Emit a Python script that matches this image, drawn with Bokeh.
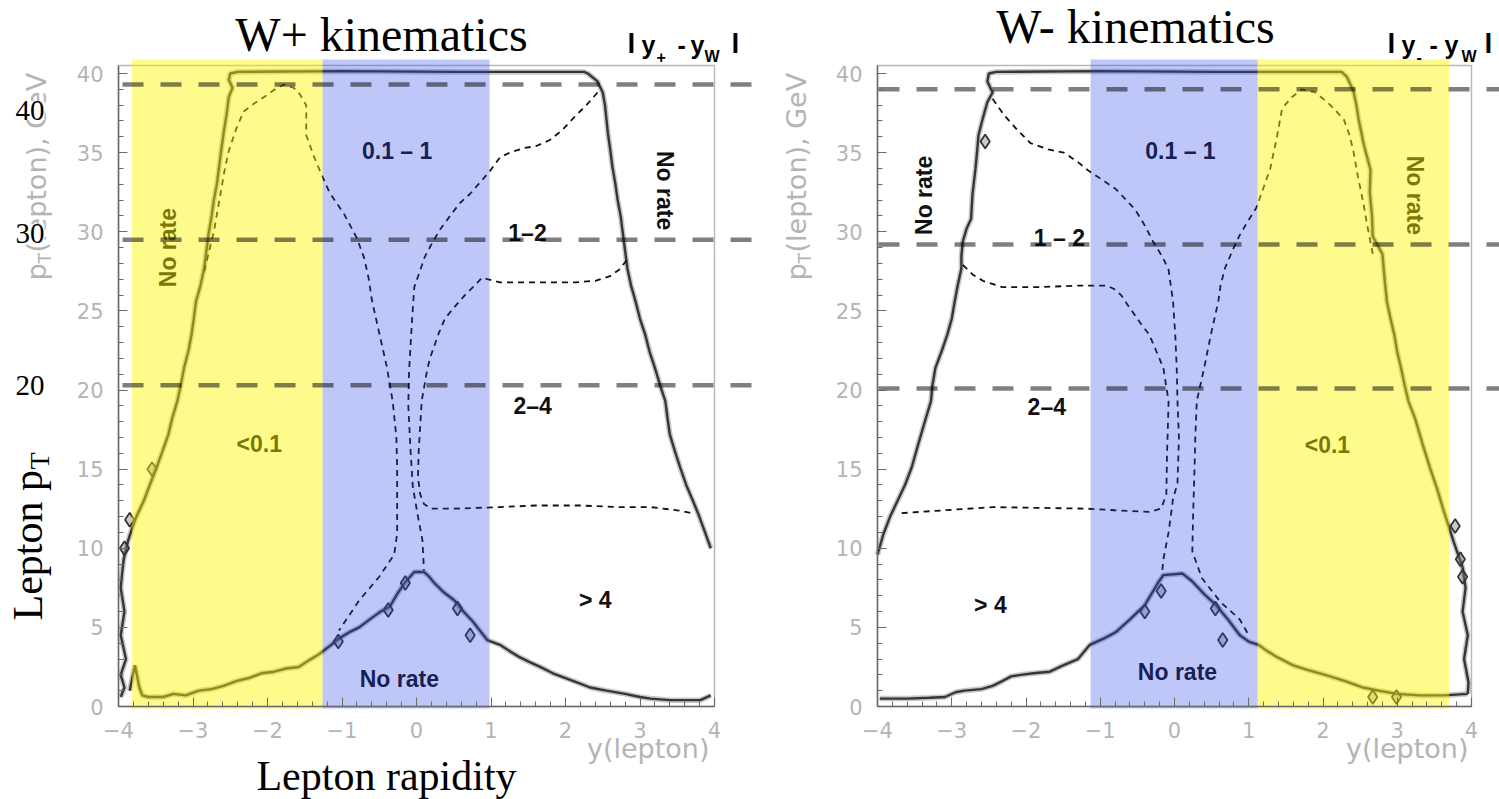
import math
from bokeh.plotting import figure
from bokeh.layouts import row
from bokeh.models import Label, Range1d, SingleIntervalTicker
from bokeh.core.properties import value
from bokeh.embed import file_html
from bokeh.resources import INLINE

# ------------------------------------------------------------------ data
X_TICKS = [-4, -3, -2, -1, 0, 1, 2, 3, 4]
Y_TICKS = [0, 5, 10, 15, 20, 25, 30, 35, 40]
BOX_TOP = 40.5
CUT_LABELS = ["40", "30", "20"]
TITLES = ["W+ kinematics", "W- kinematics"]

# ---- W+ panel
WP_EDGE = [(-3.95, 8.5), (-3.93, 9.3), (-3.87, 10.5), (-3.80, 11.5), (-3.76, 12.0), (-3.70, 12.6),
           (-3.66, 13.0), (-3.58, 14.0), (-3.49, 15.1), (-3.42, 16.0), (-3.33, 17.2), (-3.28, 18.2),
           (-3.21, 19.3), (-3.16, 20.4), (-3.12, 21.4), (-3.06, 22.5), (-3.02, 23.5), (-2.99, 24.5),
           (-2.96, 25.6), (-2.90, 26.6), (-2.85, 27.7), (-2.82, 28.8), (-2.79, 29.9), (-2.75, 31.0),
           (-2.72, 32.0), (-2.68, 33.0), (-2.65, 34.1), (-2.62, 35.2), (-2.59, 36.2), (-2.55, 37.4),
           (-2.52, 38.5), (-2.47, 39.1), (-2.52, 39.6), (-2.50, 40.0), (-2.40, 40.1), (-1.00, 40.15),
           (0.50, 40.1), (2.25, 40.1), (2.30, 40.0), (2.43, 39.5), (2.50, 38.8), (2.53, 38.0),
           (2.57, 36.2), (2.60, 35.2), (2.63, 34.1), (2.67, 33.0), (2.70, 32.0), (2.74, 31.0),
           (2.77, 29.9), (2.80, 28.8), (2.83, 27.7), (2.88, 26.6), (2.94, 25.6), (3.00, 24.5),
           (3.07, 23.5), (3.13, 22.4), (3.20, 21.4), (3.27, 20.3), (3.34, 19.3), (3.37, 18.2),
           (3.40, 17.2), (3.47, 16.1), (3.54, 15.1), (3.62, 14.0), (3.71, 13.0), (3.78, 12.2),
           (3.85, 11.3), (3.95, 10.0)]
WP_SIDE = [(-3.95, 8.5), (-3.97, 7.5), (-3.92, 6.0), (-3.97, 4.5), (-3.90, 3.0), (-3.97, 2.0),
           (-3.92, 1.2), (-3.97, 0.6)]
WP_LOW = [(-3.85, 1.0), (-3.78, 2.6), (-3.72, 1.2), (-3.68, 0.7), (-3.60, 0.6), (-3.40, 0.6),
          (-3.26, 0.8), (-3.10, 0.7), (-2.92, 1.0), (-2.75, 1.1), (-2.59, 1.3), (-2.42, 1.6),
          (-2.25, 1.8), (-2.08, 2.1), (-1.91, 2.2), (-1.75, 2.4), (-1.58, 2.5), (-1.45, 2.9),
          (-1.31, 3.3), (-1.17, 3.8), (-1.04, 4.3), (-0.90, 4.7), (-0.77, 5.0), (-0.60, 5.6),
          (-0.48, 6.0), (-0.36, 6.3), (-0.26, 7.1), (-0.16, 7.8), (-0.03, 8.5), (0.10, 8.5),
          (0.17, 8.2), (0.24, 7.8), (0.37, 7.2), (0.51, 6.7), (0.63, 6.0), (0.75, 5.4),
          (0.85, 4.8), (0.95, 4.2), (1.12, 3.9), (1.25, 3.5), (1.39, 3.1), (1.52, 2.8),
          (1.66, 2.5), (1.83, 2.1), (2.00, 1.8), (2.17, 1.5), (2.33, 1.2), (2.55, 1.0),
          (2.80, 0.8), (3.00, 0.6), (3.14, 0.5), (3.40, 0.4), (3.60, 0.4), (3.81, 0.4), (3.95, 0.7)]
WP_C1 = [(-2.85, 27.5), (-2.72, 30.0), (-2.65, 31.9), (-2.58, 33.8), (-2.52, 35.1), (-2.42, 36.5),
         (-2.32, 37.6), (-2.18, 38.1), (-2.05, 38.5), (-1.90, 39.0), (-1.78, 39.3), (-1.65, 39.1),
         (-1.58, 38.8), (-1.48, 38.0), (-1.48, 36.1), (-1.38, 34.8), (-1.31, 34.0), (-1.17, 32.5),
         (-0.97, 31.1), (-0.80, 29.6), (-0.70, 28.3), (-0.64, 27.0), (-0.60, 25.7), (-0.50, 23.6),
         (-0.40, 21.5), (-0.32, 19.3), (-0.27, 17.0), (-0.26, 15.1), (-0.26, 10.9), (-0.30, 9.6),
         (-0.50, 8.2), (-0.77, 6.7), (-1.04, 4.8)]
WP_C2 = [(2.43, 38.8), (2.28, 38.0), (2.13, 37.3), (1.95, 36.4), (1.79, 35.8), (1.60, 35.4),
         (1.45, 35.3), (1.25, 35.0), (1.12, 34.7), (0.98, 33.8), (0.85, 33.1), (0.72, 32.4),
         (0.58, 31.8), (0.45, 31.0), (0.31, 30.1), (0.20, 29.2), (0.11, 28.4), (0.03, 27.3),
         (-0.03, 26.5), (-0.06, 24.4), (-0.08, 22.8), (-0.10, 21.2), (-0.11, 19.0), (-0.08, 16.2),
         (-0.05, 13.9), (0.02, 12.0), (0.08, 10.5), (0.10, 8.6)]
WP_C3 = [(2.82, 28.2), (2.72, 27.6), (2.60, 27.2), (2.40, 26.9), (2.13, 26.8), (1.80, 26.8),
         (1.45, 26.8), (1.12, 26.8), (0.95, 27.0), (0.88, 27.1), (0.80, 26.7), (0.65, 26.0),
         (0.50, 25.2), (0.38, 24.5), (0.30, 23.6), (0.24, 22.8), (0.18, 22.0), (0.14, 21.2),
         (0.07, 19.3), (0.04, 17.0), (0.03, 16.2), (0.02, 14.5), (0.05, 13.4), (0.10, 12.8),
         (0.20, 12.5), (0.50, 12.5), (1.12, 12.6), (1.60, 12.7), (2.20, 12.7), (2.70, 12.6),
         (3.14, 12.6), (3.50, 12.4), (3.72, 12.2)]
WP_DIAMONDS = [(-0.15, 7.8), (-0.38, 6.1), (0.55, 6.2), (0.72, 4.5), (-1.05, 4.1),
               (-3.85, 11.8), (-3.92, 10.0), (-3.55, 15.0)]
WP_YELLOW = (-3.82, -1.26)
WP_BLUE = (-1.26, 0.98)
WP_CUTS = [39.3, 29.5, 20.3]
WP_REGION_TEXT = ["No rate", "0.1 \u2013 1", "No rate", "1\u20132", "2\u20134", "<0.1", "> 4", "No rate"]
WP_REGION_X = [-3.33, -0.26, 3.34, 1.49, 1.56, -2.11, 2.40, -0.23]
WP_REGION_Y = [29.0, 35.1, 32.6, 29.9, 19.0, 16.6, 6.7, 1.75]
WP_REGION_ANGLE = [90, 0, -90, 0, 0, 0, 0, 0]

# ---- W- panel
WM_EDGE = [(-4.00, 9.6), (-3.92, 10.9), (-3.83, 12.0), (-3.73, 13.0), (-3.63, 14.0), (-3.54, 15.1),
           (-3.45, 16.6), (-3.35, 18.2), (-3.28, 19.3), (-3.26, 20.3), (-3.22, 21.4), (-3.14, 22.4),
           (-3.06, 23.5), (-3.00, 24.5), (-2.96, 25.6), (-2.92, 26.6), (-2.87, 27.7), (-2.87, 28.5),
           (-2.85, 29.4), (-2.80, 30.2), (-2.74, 30.8), (-2.72, 32.4), (-2.68, 34.0), (-2.66, 35.0),
           (-2.64, 36.1), (-2.58, 37.2), (-2.52, 38.2), (-2.45, 38.8), (-2.52, 39.5), (-2.50, 40.0),
           (-2.40, 40.1), (-1.00, 40.15), (0.50, 40.1), (2.25, 40.1), (2.32, 39.8), (2.41, 38.9),
           (2.45, 38.0), (2.48, 37.1), (2.55, 35.5), (2.64, 33.9), (2.63, 32.5), (2.66, 31.0),
           (2.67, 29.7), (2.80, 28.6), (2.83, 27.0), (2.86, 25.6), (2.91, 24.5), (2.96, 23.5),
           (3.00, 22.4), (3.05, 21.4), (3.10, 20.3), (3.15, 19.3), (3.24, 18.2), (3.34, 16.6),
           (3.44, 15.1), (3.54, 13.7), (3.63, 12.3), (3.70, 11.3), (3.76, 10.4), (3.82, 9.6),
           (3.88, 8.8)]
WM_SIDE = [(3.88, 8.8), (3.92, 7.5), (3.88, 6.0), (3.95, 4.5), (3.90, 3.0), (3.96, 1.5), (3.95, 0.8)]
WM_LOW = [(-3.97, 0.5), (-3.60, 0.5), (-3.30, 0.55), (-3.09, 0.6), (-2.95, 0.9), (-2.83, 1.0),
          (-2.60, 1.1), (-2.45, 1.3), (-2.32, 1.6), (-2.20, 1.9), (-2.07, 2.0), (-1.90, 2.1),
          (-1.68, 2.2), (-1.50, 2.6), (-1.30, 3.0), (-1.14, 3.9), (-0.95, 4.3), (-0.79, 4.7),
          (-0.60, 5.5), (-0.40, 6.4), (-0.30, 7.2), (-0.21, 7.9), (-0.15, 8.3), (0.11, 8.4),
          (0.24, 7.9), (0.40, 7.1), (0.56, 6.4), (0.72, 5.5), (0.88, 4.5), (1.00, 4.1),
          (1.13, 3.9), (1.25, 3.5), (1.39, 3.1), (1.60, 2.6), (1.80, 2.3), (2.03, 2.0),
          (2.30, 1.6), (2.54, 1.2), (2.75, 1.0), (2.99, 0.8), (3.30, 0.7), (3.63, 0.7), (3.95, 0.8)]
WM_C1 = [(2.67, 28.6), (2.60, 30.3), (2.54, 31.9), (2.47, 33.5), (2.41, 35.1), (2.35, 36.2),
         (2.28, 37.1), (2.10, 38.0), (1.90, 38.8), (1.71, 39.0), (1.58, 38.5), (1.45, 37.8),
         (1.38, 36.0), (1.29, 34.0), (1.20, 32.8), (1.10, 31.5), (0.98, 30.6), (0.88, 29.8),
         (0.78, 28.8), (0.68, 27.7), (0.62, 26.6), (0.59, 25.6), (0.49, 23.5), (0.40, 21.4),
         (0.30, 19.3), (0.28, 17.0), (0.27, 15.1), (0.25, 12.0), (0.24, 9.8), (0.37, 8.1),
         (0.62, 6.6), (0.88, 5.5), (1.00, 4.5)]
WM_C2 = [(-2.45, 38.4), (-2.30, 37.4), (-2.13, 36.5), (-1.94, 35.6), (-1.70, 35.2), (-1.49, 35.0),
         (-1.30, 34.4), (-1.17, 33.9), (-0.98, 33.3), (-0.79, 32.7), (-0.65, 32.0), (-0.53, 31.4),
         (-0.40, 30.4), (-0.28, 29.3), (-0.16, 28.4), (-0.08, 27.6), (-0.02, 25.6), (0.01, 23.5),
         (0.03, 21.4), (0.04, 19.3), (0.06, 17.0), (0.04, 14.1), (-0.02, 13.1), (-0.08, 11.0),
         (-0.15, 9.3), (-0.17, 8.3)]
WM_C3 = [(-2.85, 27.9), (-2.72, 27.3), (-2.58, 26.9), (-2.32, 26.5), (-1.81, 26.5), (-1.30, 26.6),
         (-0.91, 26.6), (-0.82, 26.4), (-0.72, 26.0), (-0.62, 25.3), (-0.53, 24.7), (-0.44, 24.1),
         (-0.34, 23.5), (-0.24, 22.4), (-0.15, 21.4), (-0.08, 19.3), (-0.09, 17.5), (-0.10, 16.1),
         (-0.11, 13.4), (-0.18, 12.5), (-0.34, 12.3), (-0.80, 12.4), (-1.17, 12.5), (-1.80, 12.55),
         (-2.45, 12.6), (-3.10, 12.4), (-3.73, 12.2)]
WM_DIAMONDS = [(-0.18, 7.3), (-0.40, 6.0), (0.55, 6.2), (0.65, 4.2), (-2.55, 35.7),
               (3.78, 11.4), (3.85, 9.3), (3.88, 8.2), (2.67, 0.6), (2.99, 0.6)]
WM_BLUE = (-1.13, 1.12)
WM_YELLOW = (1.12, 3.70)
WM_CUTS = [39.0, 29.2, 20.1]
WM_REGION_TEXT = ["No rate", "0.1 \u2013 1", "1 \u2013 2", "No rate", "2\u20134", "<0.1", "> 4", "No rate"]
WM_REGION_X = [-3.38, 0.08, -1.55, 3.24, -1.72, 2.06, -2.48, 0.04]
WM_REGION_Y = [32.3, 35.1, 29.6, 32.3, 18.95, 16.5, 6.4, 2.2]
WM_REGION_ANGLE = [90, 0, 0, -90, 0, 0, 0, 0]

# ------------------------------------------------------------------ layout / style
H = 799
PAGE_TOP = 0
Y0PX, YS = 706.0, 15.825          # page pixel of pT = 0 and pixels per GeV
BAND_TOP_PX, BAND_BOTTOM_PX = 59, 708

SERIF = "Liberation Serif"
SANS = "Liberation Sans"
GRAYF = "DejaVu Sans"
LIGHT = "#b4b4b4"
EDGE_COLOR = "#363636"
YELLOW, YELLOW_A = "#fff500", 0.45
BLUE, BLUE_A = "#2a41e8", 0.30


def unzip(pairs):
    return [a for a, _ in pairs], [b for _, b in pairs]


def Y(py):
    return (Y0PX - py) / YS


def make_panel(cfg):
    def X(px):
        return X_TICKS[0] + (px - cfg["x0px"]) / cfg["xs"]

    left_px = cfg["page_left"]
    right_px = left_px + cfg["width"]
    p = figure(width=cfg["width"], height=H,
               x_range=Range1d(X(left_px), X(right_px)),
               y_range=Range1d(Y(PAGE_TOP + H), Y(PAGE_TOP)),
               output_backend="svg", toolbar_location=None, title=None,
               min_border=0, min_border_left=0, min_border_right=0,
               min_border_top=0, min_border_bottom=0)
    p.outline_line_color = None
    p.background_fill_color = "white"
    p.border_fill_color = "white"
    p.xgrid.visible = False
    p.ygrid.visible = False

    # axes, pinned to the plot box corner
    for ax in (p.xaxis[0], p.yaxis[0]):
        ax.axis_line_color = "#6a6a6a"
        ax.axis_line_width = 1.5
        ax.major_tick_line_color = "#6a6a6a"
        ax.minor_tick_line_color = "#6a6a6a"
        ax.major_tick_in = 9
        ax.major_tick_out = 0
        ax.minor_tick_in = 5
        ax.minor_tick_out = 0
        ax.major_label_text_color = LIGHT
        ax.major_label_text_font = GRAYF
        ax.major_label_text_font_size = "21px"
        ax.major_label_standoff = 15
    p.xaxis[0].fixed_location = Y_TICKS[0]
    p.yaxis[0].fixed_location = X_TICKS[0]
    p.xaxis[0].ticker = SingleIntervalTicker(interval=X_TICKS[1] - X_TICKS[0], num_minor_ticks=5)
    p.yaxis[0].ticker = SingleIntervalTicker(interval=Y_TICKS[1] - Y_TICKS[0], num_minor_ticks=5)
    p.xaxis[0].bounds = (X_TICKS[0], X_TICKS[-1])
    p.yaxis[0].bounds = (Y_TICKS[0], BOX_TOP)
    p.xaxis[0].major_label_overrides = {t: str(t).replace("-", "\u2212") for t in X_TICKS}

    # plot box
    p.quad(left=[X_TICKS[0]], right=[X_TICKS[-1]], bottom=[Y_TICKS[0]], top=[BOX_TOP],
           fill_color=None, line_color="#b8b8b8", line_width=1.5)

    # kinematic boundaries
    for pairs in (cfg["edge"], cfg["low"], cfg["side"]):
        xs, ys = unzip(pairs)
        p.line(xs, ys, line_color="#9a9a9a", line_width=5.5, line_alpha=0.55)
        p.line(xs, ys, line_color=EDGE_COLOR, line_width=2.4)
    # dashed contours
    for pairs in cfg["contours"]:
        xs, ys = unzip(pairs)
        p.line(xs, ys, line_color="#111111", line_width=1.8, line_dash="6 5")
    dx, dy = unzip(cfg["diamonds"])
    p.scatter(dx, dy, marker="diamond", size=14, fill_color="#777777", fill_alpha=0.4,
              line_color="#333333", line_width=1.8)

    # region labels
    p.text(x=cfg["rx"], y=cfg["ry"], text=cfg["rtext"], angle=cfg["rangle"], angle_units="deg",
           text_font=value(SANS), text_font_style="bold", text_font_size="23px",
           text_align="center", text_baseline="middle", text_color="#111111")

    # coloured bands on top
    for (a, b), col, alpha in cfg["bands"]:
        p.quad(left=[a], right=[b], bottom=[Y(BAND_BOTTOM_PX)], top=[Y(BAND_TOP_PX)],
               fill_color=col, fill_alpha=alpha, line_color=None)

    # horizontal cut lines
    cuts = cfg["cuts"]
    p.segment(x0=[X(cfg["cut_x0"])] * len(cuts), x1=[X(cfg["cut_x1"])] * len(cuts),
              y0=cuts, y1=cuts, line_color="black", line_alpha=0.5, line_width=4.5,
              line_dash="21 17")

    # free texts, positioned by their visual centre line (page pixels)
    def lab(px, py, text, size, font, color="black", align="left", angle=0.0,
            style="normal", bg=None):
        kw = {}
        if bg:
            kw = dict(background_fill_color=bg, background_fill_alpha=1.0)
        p.add_layout(Label(x=X(px), y=Y(py), text=text, text_font=font,
                           text_font_size=f"{size}px", text_color=color, text_align=align,
                           text_baseline="middle", angle=angle, text_font_style=style, **kw))

    # title
    lab(cfg["title_x"], cfg["title_mid"], cfg["title"], 48, SERIF, align="center")
    # |y - yW| label
    sx = cfg["sym_x"]
    lab(sx[0], 43, "l", 28, SANS, style="bold")
    lab(sx[1], 44, "y", 25, SANS, style="bold")
    lab(sx[2], 56, cfg["sym_sub"], 16, SANS, style="bold")
    lab(sx[3], 44, "-", 25, SANS, style="bold")
    lab(sx[4], 44, "y", 25, SANS, style="bold")
    lab(sx[5], 56, "W", 16, SANS, style="bold")
    lab(sx[6], 43, "l", 28, SANS, style="bold")
    # gray y-axis label p_T(lepton), GeV (rotated)
    bx = cfg["ylab_x"]
    lab(bx, 280, "p", 27, GRAYF, color=LIGHT, angle=math.pi / 2)
    lab(bx + 8, 263, "T", 17, GRAYF, color=LIGHT, angle=math.pi / 2)
    lab(bx, 252, "(lepton), GeV", 27, GRAYF, color=LIGHT, angle=math.pi / 2)
    # gray x-axis label
    lab(cfg["xlab_right"], 748, "y(lepton)", 27, GRAYF, color=LIGHT, align="right")

    if cfg["outer"]:
        for t, mid in zip(CUT_LABELS, (110, 233, 385)):
            lab(15, mid, t, 29, SERIF, bg="white")
        lab(27, 620, "Lepton p", 42, SERIF, angle=math.pi / 2)
        lab(39, 469, "T", 28, SERIF, angle=math.pi / 2)
        lab(386, 775, "Lepton rapidity", 42, SERIF, align="center")
    return p


cfg_plus = dict(page_left=0, width=770, x0px=118, xs=74.5,
                edge=WP_EDGE, low=WP_LOW, side=WP_SIDE, contours=[WP_C1, WP_C2, WP_C3],
                diamonds=WP_DIAMONDS, rx=WP_REGION_X, ry=WP_REGION_Y, rtext=WP_REGION_TEXT,
                rangle=WP_REGION_ANGLE,
                bands=[(WP_YELLOW, YELLOW, YELLOW_A), (WP_BLUE, BLUE, BLUE_A)],
                cuts=WP_CUTS, cut_x0=122, cut_x1=761,
                title=TITLES[0], title_x=381, title_mid=34,
                sym_x=[627, 641, 656, 677, 690, 704, 731], sym_sub="+",
                ylab_x=36, xlab_right=709, outer=True)
cfg_minus = dict(page_left=770, width=729, x0px=877, xs=74.25,
                 edge=WM_EDGE, low=WM_LOW, side=WM_SIDE, contours=[WM_C1, WM_C2, WM_C3],
                 diamonds=WM_DIAMONDS, rx=WM_REGION_X, ry=WM_REGION_Y, rtext=WM_REGION_TEXT,
                 rangle=WM_REGION_ANGLE,
                 bands=[(WM_BLUE, BLUE, BLUE_A), (WM_YELLOW, YELLOW, YELLOW_A)],
                 cuts=WM_CUTS, cut_x0=878, cut_x1=1499,
                 title=TITLES[1], title_x=1135, title_mid=26,
                 sym_x=[1387, 1401, 1416, 1429, 1444, 1461, 1484], sym_sub="-",
                 ylab_x=796, xlab_right=1468, outer=False)

p1 = make_panel(cfg_plus)
p2 = make_panel(cfg_minus)
layout = row(p1, p2)
open("out.html", "w").write(file_html(layout, INLINE))
